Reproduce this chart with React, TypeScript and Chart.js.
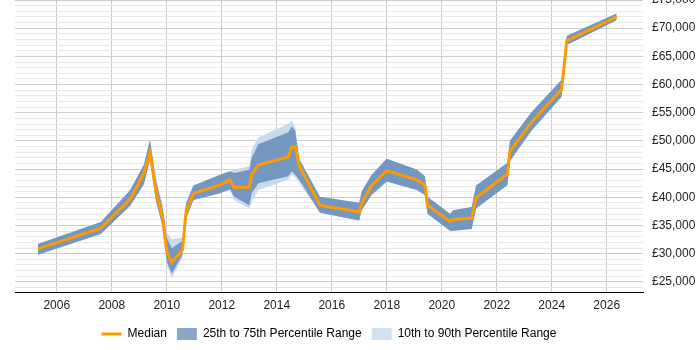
import React, { useEffect, useRef } from "react";
import Chart from "chart.js/auto";

// Sample dates (decimal years) and the salary percentiles at each one
const years = [
  2005.31, 2007.6, 2008.67, 2009.17, 2009.39, 2009.6, 2009.84, 2010.0, 2010.18, 2010.57,
  2010.7, 2010.97, 2011.94, 2012.3, 2012.45, 2013.0, 2013.09, 2013.33, 2014.42, 2014.55,
  2014.67, 2014.82, 2015.57, 2017.0, 2017.09, 2017.45, 2018.0, 2019.09, 2019.39, 2019.48,
  2020.3, 2020.42, 2021.09, 2021.25, 2022.39, 2022.48, 2023.27, 2024.36, 2024.55, 2026.36,
];
const p10 = [
  29820, 33490, 38480, 42300, 46700, 39300, 34800, 28070, 25670, 29270,
  36000, 39500, 40700, 41400, 39500, 38000, 39210, 41300, 43110, 44000,
  43500, 42510, 37270, 35890, 37700, 40400, 42810, 41300, 40400, 37100,
  34080, 34080, 34390, 38000, 42200, 46430, 51840, 57850, 67000, 71390,
];
const p25 = [
  29820, 33490, 38480, 42300, 46700, 39500, 34980, 28670, 26450, 29870,
  36190, 39500, 40700, 41400, 40110, 38600, 40700, 42510, 43720, 44620,
  44010, 43110, 37270, 35890, 37700, 40400, 42810, 41300, 40400, 37100,
  34080, 34080, 34390, 38000, 42200, 46430, 51840, 57850, 67000, 71390,
];
const median = [
  30860, 34510, 39680, 44300, 47900, 41300, 36500, 30470, 28490, 30650,
  37400, 40700, 42200, 43100, 41790, 41790, 44010, 45700, 47150, 48950,
  48950, 45520, 38600, 37400, 38900, 42100, 44730, 43110, 42100, 38600,
  35710, 36070, 36320, 39930, 44130, 48100, 53340, 59170, 67780, 71990,
];
const p75 = [
  31730, 35600, 41300, 45800, 50200, 43110, 38300, 32880, 30960, 32280,
  38900, 42100, 44010, 44600, 44300, 44900, 47020, 49420, 51530, 52560,
  51840, 46720, 40110, 39030, 41010, 44010, 46840, 44910, 43720, 40110,
  37100, 37700, 38300, 42100, 46120, 50030, 55150, 60870, 68680, 72600,
];
const p90 = [
  31730, 35600, 41300, 45800, 50300, 43700, 38900, 33790, 32580, 32880,
  39100, 42100, 44010, 44600, 44900, 45520, 48520, 50630, 53030, 53650,
  52440, 47020, 40110, 39030, 41010, 44010, 46840, 44910, 43720, 40110,
  37100, 37700, 38300, 42100, 46120, 50030, 55150, 60870, 68680, 72600,
];

// Axis ticks
const yearTicks = [2006, 2008, 2010, 2012, 2014, 2016, 2018, 2020, 2022, 2024, 2026];
const salaryTicks = [
  24000, 25000, 26000, 27000, 28000, 29000, 30000, 31000, 32000, 33000, 34000, 35000,
  36000, 37000, 38000, 39000, 40000, 41000, 42000, 43000, 44000, 45000, 46000, 47000,
  48000, 49000, 50000, 51000, 52000, 53000, 54000, 55000, 56000, 57000, 58000, 59000,
  60000, 61000, 62000, 63000, 64000, 65000, 66000, 67000, 68000, 69000, 70000, 71000,
  72000, 73000, 74000, 75000,
];

const ORANGE = "#FF9900";
const DARK = "#7397C0";
const LIGHT = "#C8DAED";
const DARK_KEY = "#88A6C8";
const LIGHT_KEY = "#D2E1F0";
const FONT = "'Liberation Sans', Arial, sans-serif";

const pts = (vals: number[]) => years.map((x, i) => ({ x, y: vals[i] }));
const money = (v: number) => "£" + String(v).replace(/\B(?=(\d{3})+(?!\d))/g, ",");

export default function App() {
  const ref = useRef<HTMLCanvasElement | null>(null);

  useEffect(() => {
    if (!ref.current) return;
    const band = { pointRadius: 0, borderWidth: 0, tension: 0 };
    const chart = new Chart(ref.current, {
      type: "line",
      data: {
        datasets: [
          {
            label: "Median",
            data: pts(median),
            borderColor: ORANGE,
            borderWidth: 3,
            pointRadius: 0,
            tension: 0,
            fill: false,
          },
          { label: "25th to 75th Percentile Range", data: pts(p75), backgroundColor: DARK, borderColor: DARK, fill: 2, ...band },
          { label: "p25", data: pts(p25), borderColor: DARK, fill: false, ...band },
          { label: "10th to 90th Percentile Range", data: pts(p90), backgroundColor: LIGHT, borderColor: LIGHT, fill: 4, ...band },
          { label: "p10", data: pts(p10), borderColor: LIGHT, fill: false, ...band },
        ],
      },
      options: {
        responsive: false,
        animation: false,
        events: [],
        layout: { padding: { left: 15, right: 5, top: 0, bottom: 0 } },
        scales: {
          x: {
            type: "linear",
            min: 2004.48,
            max: 2027.32,
            afterBuildTicks: (s: any) => {
              s.ticks = yearTicks.map((value) => ({ value }));
            },
            afterFit: (s: any) => {
              s.height = 26;
            },
            ticks: {
              autoSkip: false,
              maxRotation: 0,
              padding: 6,
              color: "#222",
              font: { family: FONT, size: 12 },
              callback: (v: any) => String(v),
            },
            grid: { color: "#CCCCCC", drawTicks: false },
            border: { display: true, color: "#000000", width: 1 },
          },
          y: {
            type: "linear",
            position: "right",
            min: 23200,
            max: 75000,
            afterBuildTicks: (s: any) => {
              s.ticks = salaryTicks.map((value) => ({ value }));
            },
            afterFit: (s: any) => {
              s.width = 52;
              s.paddingTop = 0;
              s.paddingBottom = 0;
            },
            ticks: {
              autoSkip: false,
              padding: 9,
              color: "#222",
              font: { family: FONT, size: 12 },
              callback: (v: any) => (Number(v) % 5000 === 0 ? money(Number(v)) : ""),
            },
            grid: {
              drawTicks: false,
              color: (c: any) => (c.tick && c.tick.value % 5000 === 0 ? "#CCCCCC" : "#E8E8E8"),
            },
            border: { display: false },
          },
        },
        plugins: {
          tooltip: { enabled: false },
          legend: {
            position: "bottom",
            fullSize: false,
            labels: {
              usePointStyle: true,
              pointStyleWidth: 20,
              boxHeight: 12,
              padding: 10,
              color: "#222",
              font: { family: FONT, size: 12 },
              generateLabels: () => [
                { text: "Median", fillStyle: ORANGE, strokeStyle: ORANGE, lineWidth: 3, pointStyle: "line", hidden: false, datasetIndex: 0 },
                { text: "25th to 75th Percentile Range", fillStyle: DARK_KEY, strokeStyle: DARK_KEY, lineWidth: 0, pointStyle: "rect", hidden: false, datasetIndex: 1 },
                { text: "10th to 90th Percentile Range", fillStyle: LIGHT_KEY, strokeStyle: LIGHT_KEY, lineWidth: 0, pointStyle: "rect", hidden: false, datasetIndex: 3 },
              ],
            },
          },
        },
      } as any,
    });
    return () => chart.destroy();
  }, []);

  return (
    <div style={{ position: "absolute", left: 0, top: 0, width: 700, height: 350, background: "#fff" }}>
      <canvas ref={ref} width={700} height={350} />
    </div>
  );
}
